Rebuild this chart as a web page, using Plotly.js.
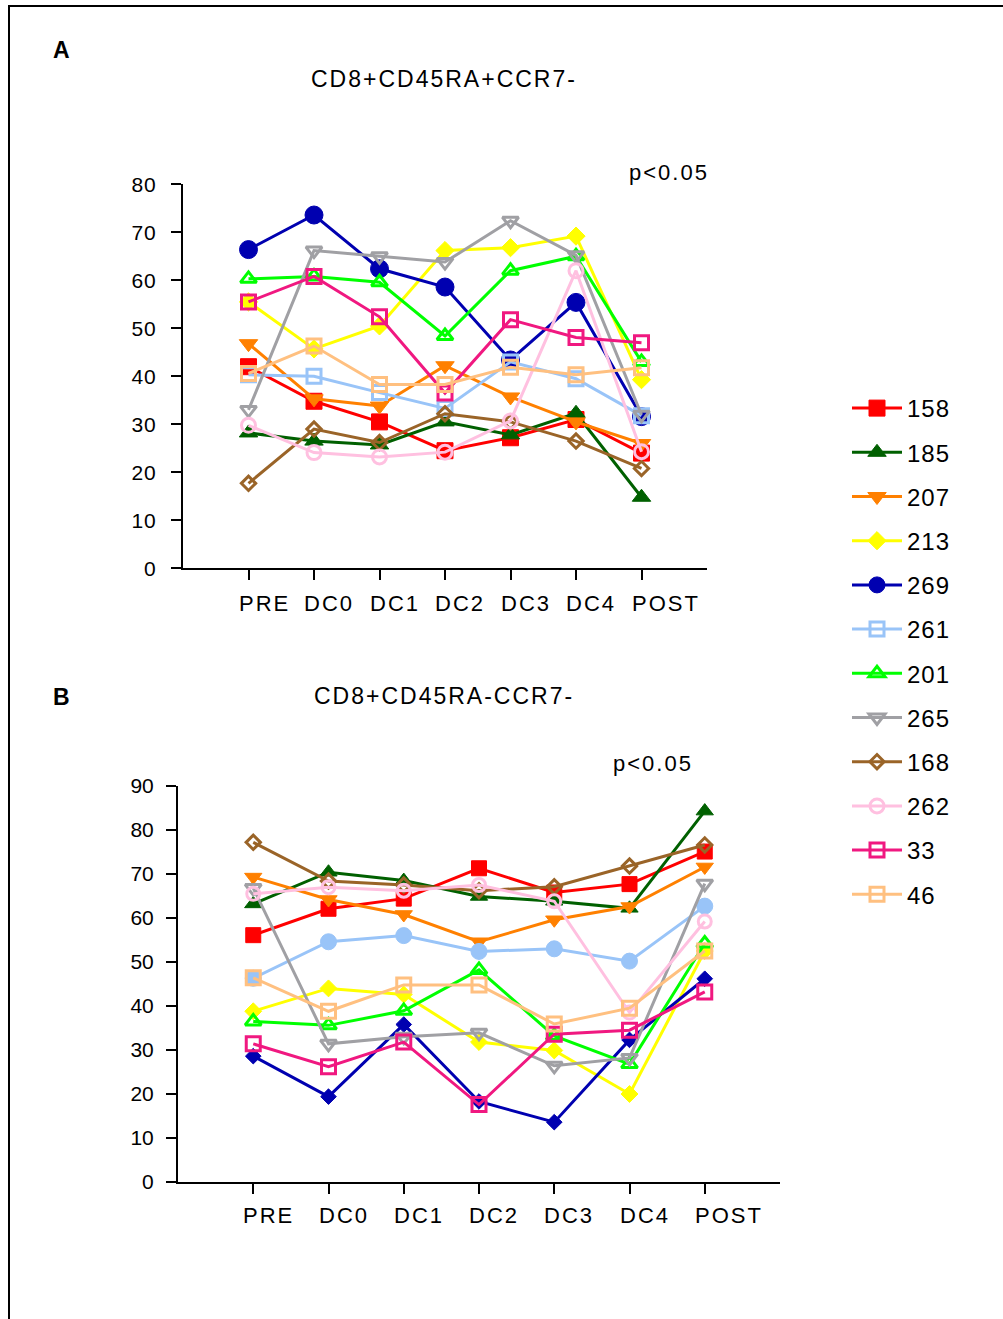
<!DOCTYPE html>
<html>
<head>
<meta charset="utf-8">
<script src="https://cdn.plot.ly/plotly-3.0.1.min.js"></script>
<style>
  html, body { margin: 0; padding: 0; background: #fff; }
  #chart { width: 1003px; height: 1319px; }
  .annotation-text { letter-spacing: 2px; }
  .ytick text { letter-spacing: 1px; }
  .legendtext { letter-spacing: 1px; }
</style>
</head>
<body>
<div id="chart"></div>
<script>
// Sampling points along the treatment course
const categories = ['PRE', 'DC0', 'DC1', 'DC2', 'DC3', 'DC4', 'POST'];

// Patient identifiers (legend order)
const patientIds = ['158', '185', '207', '213', '269', '261', '201', '265', '168', '262', '33', '46'];

// Panel A: % CD8+CD45RA+CCR7- cells per patient
const a158 = [42.0, 34.8, 30.5, 24.5, 27.2, 31.0, 24.0];
const a185 = [28.2, 26.5, 25.7, 30.5, 27.8, 32.3, 14.8];
const a207 = [46.8, 35.3, 33.8, 42.2, 35.7, 30.5, 26.0];
const a213 = [55.5, 45.7, 50.5, 66.2, 66.8, 69.2, 39.3];
const a269 = [66.4, 73.6, 62.4, 58.6, 43.4, 55.4, 31.6];
const a261 = [40.3, 40.0, 36.6, 33.3, 43.0, 39.5, 31.8];
const a201 = [60.3, 60.8, 59.6, 48.4, 62.0, 65.0, 43.0];
const a265 = [33.0, 66.2, 65.0, 63.8, 72.4, 65.2, 32.0];
const a168 = [17.7, 29.0, 26.2, 32.2, 30.5, 26.5, 20.8];
const a262 = [29.8, 24.1, 23.2, 24.2, 30.7, 62.0, 24.3];
const a33  = [55.5, 60.8, 52.4, 36.5, 51.8, 48.1, 47.0];
const a46  = [40.6, 46.3, 38.3, 38.3, 41.9, 40.3, 41.8];

// Panel B: % CD8+CD45RA-CCR7- cells per patient
const b158 = [56.1, 62.1, 64.4, 71.3, 65.8, 67.7, 75.1];
const b185 = [63.2, 70.4, 68.5, 64.9, 63.8, 62.2, 84.3];
const b207 = [69.3, 64.2, 60.8, 54.6, 59.6, 62.6, 71.6];
const b213 = [38.8, 44.0, 42.6, 31.8, 29.9, 20.0, 52.5];
const b269 = [28.6, 19.4, 35.8, 18.3, 13.6, 32.3, 46.2];
const b261 = [46.3, 54.6, 56.0, 52.4, 53.0, 50.2, 62.7];
const b201 = [36.5, 35.6, 38.9, 48.2, 33.2, 26.8, 54.2];
const b265 = [66.8, 31.4, 33.0, 33.9, 26.4, 28.2, 67.8];
const b168 = [77.2, 68.4, 67.5, 66.2, 67.1, 71.8, 76.6];
const b262 = [65.5, 67.0, 66.2, 67.5, 63.8, 38.5, 59.2];
const b33  = [31.4, 26.2, 31.8, 17.6, 33.6, 34.5, 43.2];
const b46  = [46.4, 38.8, 44.8, 44.8, 35.9, 39.5, 52.5];

const panelA = [a158, a185, a207, a213, a269, a261, a201, a265, a168, a262, a33, a46];
const panelB = [b158, b185, b207, b213, b269, b261, b201, b265, b168, b262, b33, b46];

// Per-patient styling
const colors = ['#FF0000', '#006000', '#FF8000', '#FFFF00', '#0000B0', '#99C4F8',
                '#00FF00', '#A0A0A4', '#9A6428', '#FFC0E0', '#F01880', '#FFC080'];
const symbolsA = ['square', 'triangle-up', 'triangle-down', 'diamond', 'circle', 'square-open',
                  'triangle-up-open', 'triangle-down-open', 'diamond-open', 'circle-open', 'square-open', 'square-open'];
const symbolsB = ['square', 'triangle-up', 'triangle-down', 'diamond', 'diamond', 'circle',
                  'triangle-up-open', 'triangle-down-open', 'diamond-open', 'circle-open', 'square-open', 'square-open'];
const sizesA = [16, 16, 16, 14, 18, 14, 14, 14, 11, 14, 14, 14];
const sizesB = [15, 15, 15, 13, 12, 16, 14, 14, 11, 13, 14, 14];

const FONT = 'Liberation Sans, Arial, sans-serif';

const traces = [];
patientIds.forEach((id, i) => {
  const open = symbolsA[i].indexOf('open') >= 0;
  traces.push({
    type: 'scatter', mode: 'lines+markers',
    x: categories, y: panelA[i],
    xaxis: 'x', yaxis: 'y',
    name: id, legendgroup: id, showlegend: true,
    line: { color: colors[i], width: 3 },
    marker: { symbol: symbolsA[i], size: sizesA[i], color: colors[i],
              line: { color: colors[i], width: open ? 3 : 1 } },
    cliponaxis: false
  });
});
patientIds.forEach((id, i) => {
  const open = symbolsB[i].indexOf('open') >= 0;
  traces.push({
    type: 'scatter', mode: 'lines+markers',
    x: categories, y: panelB[i],
    xaxis: 'x2', yaxis: 'y2',
    name: id, legendgroup: id, showlegend: false,
    line: { color: colors[i], width: 3 },
    marker: { symbol: symbolsB[i], size: sizesB[i], color: colors[i],
              line: { color: colors[i], width: open ? 3 : 1 } },
    cliponaxis: false
  });
});

const W = 1003, H = 1319;
const px = v => v / W;
const py = v => 1 - v / H;

function xAxis(domain, anchor) {
  return {
    domain: domain, anchor: anchor, type: 'category', categoryarray: categories, range: [-1, 7],
    showline: true, linecolor: '#000', linewidth: 2, mirror: false,
    ticks: 'outside', ticklen: 10, tickwidth: 2, tickcolor: '#000',
    showticklabels: false, showgrid: false, zeroline: false, fixedrange: true
  };
}
function yAxis(domain, anchor, range, standoff) {
  return {
    domain: domain, anchor: anchor, range: range, dtick: 10, tick0: 0,
    showline: true, linecolor: '#000', linewidth: 2,
    ticks: 'outside', ticklen: 10, tickwidth: 2, tickcolor: '#000',
    ticklabelstandoff: standoff,
    tickfont: { family: FONT, size: 21, color: '#000' },
    showgrid: false, zeroline: false, fixedrange: true
  };
}

const annotations = [];
// Category labels under each x axis
categories.forEach(c => {
  annotations.push({ x: c, y: 0, xref: 'x', yref: 'y', text: c, showarrow: false,
    xanchor: 'left', yanchor: 'middle', xshift: -12, yshift: -35,
    font: { family: FONT, size: 22, color: '#000' } });
  annotations.push({ x: c, y: 0, xref: 'x2', yref: 'y2', text: c, showarrow: false,
    xanchor: 'left', yanchor: 'middle', xshift: -12, yshift: -33,
    font: { family: FONT, size: 22, color: '#000' } });
});
// Panel letters, titles, significance notes
annotations.push(
  { x: px(62), y: py(50), xref: 'paper', yref: 'paper', text: '<b>A</b>', showarrow: false,
    xanchor: 'center', yanchor: 'middle', font: { family: FONT, size: 23, color: '#000' } },
  { x: px(62), y: py(697), xref: 'paper', yref: 'paper', text: '<b>B</b>', showarrow: false,
    xanchor: 'center', yanchor: 'middle', font: { family: FONT, size: 23, color: '#000' } },
  { x: px(444), y: py(79), xref: 'paper', yref: 'paper', text: 'CD8+CD45RA+CCR7-', showarrow: false,
    xanchor: 'center', yanchor: 'middle', font: { family: FONT, size: 23, color: '#000' } },
  { x: px(444), y: py(696), xref: 'paper', yref: 'paper', text: 'CD8+CD45RA-CCR7-', showarrow: false,
    xanchor: 'center', yanchor: 'middle', font: { family: FONT, size: 23, color: '#000' } },
  { x: px(669), y: py(172), xref: 'paper', yref: 'paper', text: 'p&lt;0.05', showarrow: false,
    xanchor: 'center', yanchor: 'middle', font: { family: FONT, size: 22, color: '#000' } },
  { x: px(653), y: py(763), xref: 'paper', yref: 'paper', text: 'p&lt;0.05', showarrow: false,
    xanchor: 'center', yanchor: 'middle', font: { family: FONT, size: 22, color: '#000' } }
);

const layout = {
  width: W, height: H,
  margin: { l: 0, r: 0, t: 0, b: 0 },
  paper_bgcolor: '#fff', plot_bgcolor: '#fff',
  font: { family: FONT, color: '#000' },
  showlegend: true,
  legend: {
    x: px(847), y: py(386), xanchor: 'left', yanchor: 'top',
    font: { family: FONT, size: 24, color: '#000' },
    itemwidth: 50, tracegroupgap: 10, bgcolor: 'rgba(0,0,0,0)', borderwidth: 0,
    itemclick: false, itemdoubleclick: false
  },
  xaxis: xAxis([px(183), px(707)], 'y'),
  yaxis: yAxis([py(568.3), py(184.3)], 'x', [0, 80], 10),
  xaxis2: xAxis([px(178), px(780)], 'y2'),
  yaxis2: yAxis([py(1182), py(786)], 'x2', [0, 90], 8),
  annotations: annotations,
  shapes: [
    { type: 'line', xref: 'paper', yref: 'paper', x0: px(8), x1: 1, y0: py(6), y1: py(6),
      line: { color: '#000', width: 2 } },
    { type: 'line', xref: 'paper', yref: 'paper', x0: px(9), x1: px(9), y0: py(6), y1: 0,
      line: { color: '#000', width: 2 } }
  ]
};

Plotly.newPlot('chart', traces, layout, { staticPlot: true, displayModeBar: false });
</script>
</body>
</html>
